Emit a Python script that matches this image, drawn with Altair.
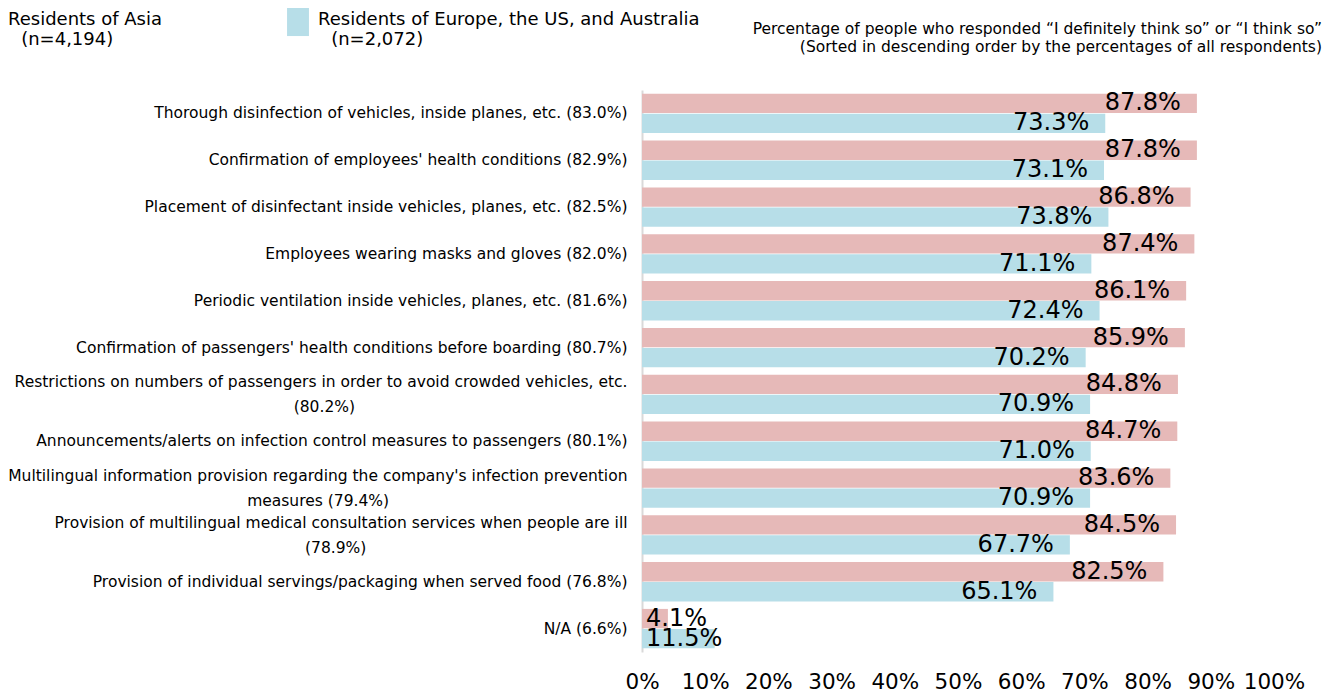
import altair as alt
import pandas as pd

categories = [
    "Thorough disinfection of vehicles, inside planes, etc. (83.0%)",
    "Confirmation of employees' health conditions (82.9%)",
    "Placement of disinfectant inside vehicles, planes, etc. (82.5%)",
    "Employees wearing masks and gloves (82.0%)",
    "Periodic ventilation inside vehicles, planes, etc. (81.6%)",
    "Confirmation of passengers' health conditions before boarding (80.7%)",
    "Restrictions on numbers of passengers in order to avoid crowded vehicles, etc.\n(80.2%)",
    "Announcements/alerts on infection control measures to passengers (80.1%)",
    "Multilingual information provision regarding the company's infection prevention\nmeasures (79.4%)",
    "Provision of multilingual medical consultation services when people are ill\n(78.9%)",
    "Provision of individual servings/packaging when served food (76.8%)",
    "N/A (6.6%)",
]
asia_values = [87.8, 87.8, 86.8, 87.4, 86.1, 85.9, 84.8, 84.7, 83.6, 84.5, 82.5, 4.1]
west_values = [73.3, 73.1, 73.8, 71.1, 72.4, 70.2, 70.9, 71.0, 70.9, 67.7, 65.1, 11.5]
series_names = ["Residents of Asia", "Residents of Europe, the US, and Australia"]
series_n = ["(n=4,194)", "(n=2,072)"]
x_ticks = [0, 10, 20, 30, 40, 50, 60, 70, 80, 90, 100]
note_lines = [
    "Percentage of people who responded \u201cI definitely think so\u201d or \u201cI think so\u201d",
    "(Sorted in descending order by the percentages of all respondents)",
]
colors = ["#E6B9B8", "#B7DEE8"]

BLANK = "\u2800"  # blank glyph that is not trimmed as whitespace
BLANK_EM = 0.73

# approximate DejaVu Sans advance widths (units of 1/2048 em) used to centre 2nd label lines
_W = {" ": 651, "(": 799, ")": 799, ",": 651, "-": 739, ".": 651, "/": 690, "%": 1946, "'": 563,
      "A": 1401, "C": 1430, "E": 1294, "M": 1767, "N": 1532, "P": 1235, "R": 1423, "T": 1251,
      "a": 1255, "b": 1300, "c": 1126, "d": 1300, "e": 1260, "f": 721, "g": 1300, "h": 1298,
      "i": 569, "j": 569, "k": 1186, "l": 569, "m": 1995, "n": 1298, "o": 1253, "p": 1300,
      "q": 1300, "r": 842, "s": 1067, "t": 803, "u": 1298, "v": 1212, "w": 1675, "x": 1212,
      "y": 1212, "z": 1075}


def _width(s):
    return sum(_W.get(ch, 1303 if ch.isdigit() else 1250) for ch in s) / 2048.0


def centre_lines(label):
    parts = label.split("\n")
    if len(parts) == 1:
        return label
    first, second = parts
    n = max(0, round((_width(first) - _width(second)) / 2 / BLANK_EM))
    return first + "\n" + second + BLANK * n


display_cats = [centre_lines(c) for c in categories]
series_labels = [f"{s}\n{BLANK}{n}" for s, n in zip(series_names, series_n)]

rows = []
for cat, a, w in zip(display_cats, asia_values, west_values):
    rows.append({"category": cat, "series": series_labels[0], "value": a})
    rows.append({"category": cat, "series": series_labels[1], "value": w})
df = pd.DataFrame(rows)

FONT = "DejaVu Sans"

y_enc = alt.Y(
    "category:N",
    sort=display_cats,
    title=None,
    scale=alt.Scale(paddingInner=0.16, paddingOuter=0.08),
    axis=alt.Axis(
        labelExpr="split(datum.label, '\\n')",
        labelLineHeight=25,
        labelFontSize=15.5,
        labelFont=FONT,
        labelColor="#000000",
        labelPadding=15,
        labelLimit=700,
        labelOffset={"condition": {"test": "indexof(datum.value, '\\n') >= 0", "value": -12}, "value": 0},
        ticks=False,
        domain=True,
        domainColor="#d9d9d9",
        domainWidth=2,
        grid=False,
    ),
)
yoff_enc = alt.YOffset("series:N", sort=series_labels, scale=alt.Scale(paddingInner=0.03))

bars = alt.Chart(df).mark_bar().encode(
    x=alt.X(
        "value:Q",
        scale=alt.Scale(domain=[0, 100], nice=False),
        title=None,
        axis=alt.Axis(
            values=x_ticks,
            labelExpr="datum.value + '%'",
            labelFontSize=21.5,
            labelFont=FONT,
            labelColor="#000000",
            labelPadding=19,
            labelFlush=False,
            domain=False,
            ticks=False,
            grid=False,
        ),
    ),
    y=y_enc,
    yOffset=yoff_enc,
    color=alt.Color(
        "series:N",
        sort=series_labels,
        scale=alt.Scale(domain=series_labels, range=colors),
        legend=alt.Legend(
            title=None,
            orient="none",
            direction="horizontal",
            legendX=-669,
            legendY=-85,
            symbolType="M-0.73,-0.93H0.73V1.07H-0.73Z",
            symbolSize=900,
            symbolStrokeWidth=0,
            symbolOpacity=1,
            labelExpr="split(datum.label, '\\n')",
            labelFontSize=18,
            labelFont=FONT,
            labelColor="#000000",
            labelLimit=600,
            labelOffset=5,
            columnPadding=120,
            padding=0,
        ),
    ),
)

base_text = alt.Chart(df).transform_calculate(
    label="format(datum.value, '.1f') + '%'"
)

text_big = base_text.transform_filter("datum.value >= 20").mark_text(
    align="right", baseline="middle", dx=-16, fontSize=24, font=FONT, color="#000000"
).encode(x="value:Q", y=y_enc, yOffset=yoff_enc, text="label:N")

text_small = base_text.transform_filter("datum.value < 20").mark_text(
    align="left", baseline="middle", dx=4, fontSize=24, font=FONT, color="#000000"
).encode(x=alt.datum(0), y=y_enc, yOffset=yoff_enc, text="label:N")

chart = (
    alt.layer(bars, text_big, text_small)
    .properties(
        width=632,
        height=562,
        autosize=alt.AutoSizeParams(type="none"),
        padding={"left": 634, "top": 82, "right": 54, "bottom": 42},
        title=alt.TitleParams(
            text=note_lines,
            anchor="end",
            align="right",
            frame="group",
            fontSize=15.5,
            fontWeight="normal",
            font=FONT,
            color="#000000",
            lineHeight=18,
            offset=-50,
            dx=48,
        ),
    )
    .configure_view(stroke=None)
)

chart.save("out.html", embed_options={"renderer": "svg", "actions": False})
